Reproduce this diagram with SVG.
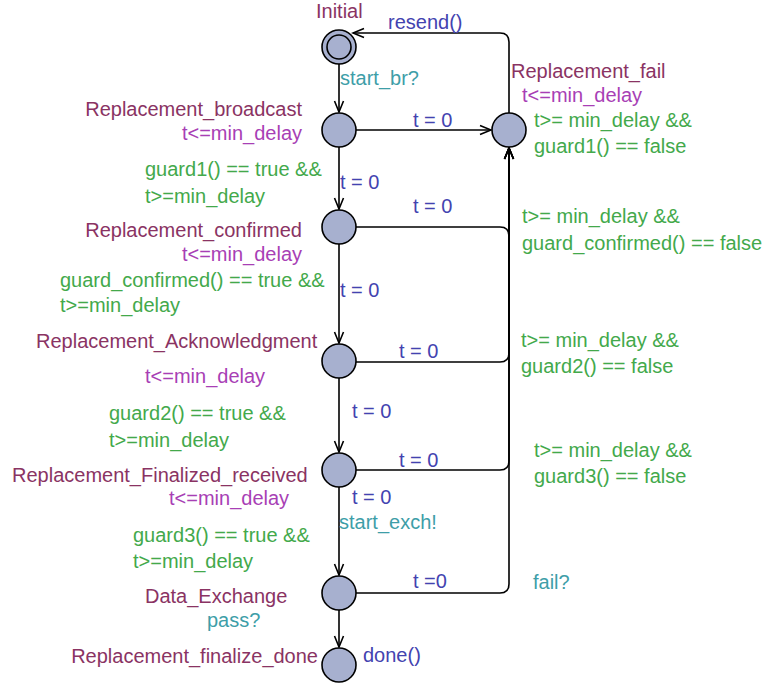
<svg xmlns="http://www.w3.org/2000/svg" width="765" height="683" viewBox="0 0 765 683">
  <style>
    text { font-family: "Liberation Sans", Arial, sans-serif; font-size: 20px; }
    .loc { fill: #a7b0cf; stroke: #000; stroke-width: 1.6; }
    .edge { fill: none; stroke: #000; stroke-width: 1.6; marker-end: url(#arr); }
    .name { fill: #8a3363; }
    .inv { fill: #a83fb5; }
    .guard { fill: #43a94b; }
    .sync { fill: #3e9ea8; }
    .upd { fill: #4343b0; }
    .end { text-anchor: end; }
  </style>
  <defs>
    <marker id="arr" markerUnits="userSpaceOnUse" markerWidth="14" markerHeight="12" viewBox="-12 -6 14 12" refX="0" refY="0" orient="auto">
      <path d="M-11,-4.5 L0,0 L-11,4.5" fill="none" stroke="#000" stroke-width="1.6"/>
    </marker>
  </defs>

  <!-- transitions -->
  <g id="edges">
    <path class="edge" d="M509,113 V42 Q509,33 500,33 H353"/>
    <path class="edge" d="M339,64 V112"/>
    <path class="edge" d="M356,130 H491"/>
    <path class="edge" d="M339,147 V209"/>
    <path class="edge" d="M356,227 H500 Q509,227 509,236 V148"/>
    <path class="edge" d="M339,244 V343"/>
    <path class="edge" d="M356,362 H500 Q509,362 509,353 V148"/>
    <path class="edge" d="M339,378 V452"/>
    <path class="edge" d="M356,470 H500 Q509,470 509,461 V148"/>
    <path class="edge" d="M339,487 V575"/>
    <path class="edge" d="M356,593 H500 Q509,593 509,584 V148"/>
    <path class="edge" d="M339,610 V647"/>

    <text class="upd" x="388" y="29">resend()</text>
    <text class="sync" x="340" y="85">start_br?</text>
    <text class="upd" x="413" y="127">t = 0</text>
    <text class="guard" x="145" y="176">guard1() == true &amp;&amp;</text>
    <text class="guard" x="145" y="203">t&gt;=min_delay</text>
    <text class="upd" x="340" y="189">t = 0</text>
    <text class="guard" x="534" y="127">t&gt;= min_delay &amp;&amp;</text>
    <text class="guard" x="534" y="153">guard1() == false</text>
    <text class="upd" x="413" y="213">t = 0</text>
    <text class="guard" x="522" y="223">t&gt;= min_delay &amp;&amp;</text>
    <text class="guard" x="522" y="250">guard_confirmed() == false</text>
    <text class="guard" x="60" y="287">guard_confirmed() == true &amp;&amp;</text>
    <text class="guard" x="60" y="312">t&gt;=min_delay</text>
    <text class="upd" x="340" y="297">t = 0</text>
    <text class="upd" x="399" y="358">t = 0</text>
    <text class="guard" x="521" y="347">t&gt;= min_delay &amp;&amp;</text>
    <text class="guard" x="521" y="373">guard2() == false</text>
    <text class="guard" x="109" y="420">guard2() == true &amp;&amp;</text>
    <text class="guard" x="109" y="447">t&gt;=min_delay</text>
    <text class="upd" x="352" y="418">t = 0</text>
    <text class="upd" x="399" y="467">t = 0</text>
    <text class="guard" x="534" y="457">t&gt;= min_delay &amp;&amp;</text>
    <text class="guard" x="534" y="483">guard3() == false</text>
    <text class="upd" x="352" y="504">t = 0</text>
    <text class="sync" x="339" y="529">start_exch!</text>
    <text class="guard" x="133" y="542">guard3() == true &amp;&amp;</text>
    <text class="guard" x="133" y="568">t&gt;=min_delay</text>
    <text class="upd" x="413" y="588">t =0</text>
    <text class="sync" x="533" y="589">fail?</text>
    <text class="sync" x="207" y="627">pass?</text>
    <text class="upd" x="363" y="662">done()</text>
  </g>

  <!-- locations -->
  <g id="Initial">
    <circle class="loc" cx="339" cy="47" r="17"/>
    <circle class="loc" cx="339" cy="47" r="12"/>
    <text class="name" x="316" y="18">Initial</text>
  </g>
  <g id="Replacement_broadcast">
    <circle class="loc" cx="339" cy="130" r="17"/>
    <text class="name end" x="302" y="116">Replacement_broadcast</text>
    <text class="inv end" x="302" y="140">t&lt;=min_delay</text>
  </g>
  <g id="Replacement_fail">
    <circle class="loc" cx="509" cy="130" r="17"/>
    <text class="name" x="511" y="78">Replacement_fail</text>
    <text class="inv" x="522" y="102">t&lt;=min_delay</text>
  </g>
  <g id="Replacement_confirmed">
    <circle class="loc" cx="339" cy="227" r="17"/>
    <text class="name end" x="302" y="237">Replacement_confirmed</text>
    <text class="inv end" x="302" y="261">t&lt;=min_delay</text>
  </g>
  <g id="Replacement_Acknowledgment">
    <circle class="loc" cx="339" cy="361" r="17"/>
    <text class="name" x="36" y="348">Replacement_Acknowledgment</text>
    <text class="inv" x="145" y="383">t&lt;=min_delay</text>
  </g>
  <g id="Replacement_Finalized_received">
    <circle class="loc" cx="339" cy="470" r="17"/>
    <text class="name" x="12" y="482">Replacement_Finalized_received</text>
    <text class="inv" x="169" y="505">t&lt;=min_delay</text>
  </g>
  <g id="Data_Exchange">
    <circle class="loc" cx="339" cy="593" r="17"/>
    <text class="name" x="145" y="603">Data_Exchange</text>
  </g>
  <g id="Replacement_finalize_done">
    <circle class="loc" cx="339" cy="665" r="17"/>
    <text class="name end" x="318" y="663">Replacement_finalize_done</text>
  </g>
</svg>
